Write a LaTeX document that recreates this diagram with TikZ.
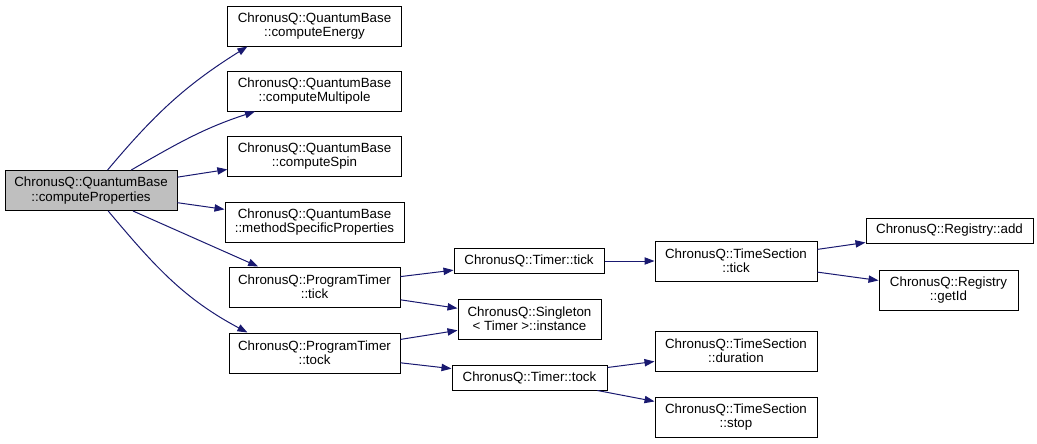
\documentclass[tikz,border=0pt]{standalone}
\usepackage{fontspec}
\setmainfont{Liberation Sans}
\usetikzlibrary{arrows.meta}
\definecolor{callblue}{HTML}{191970}
\begin{document}
\begin{tikzpicture}[x=0.75pt,y=-0.75pt,font=\fontsize{10}{10.7}\selectfont,
			fn/.style={draw=black,line width=0.75pt,fill=white,align=center,inner sep=0pt},
			call/.style={draw=callblue,line width=0.75pt,-{Triangle[length=7.5pt,width=5.5pt]}}
			] 
			\useasboundingbox (0,0) rectangle (1037,443);
			\node[fn,fill=gray!50,minimum width=129pt,minimum height=30pt] (root) at (91,190.5) {ChronusQ::QuantumBase\\::computeProperties};
			\node[fn,minimum width=130pt,minimum height=30pt] (energy) at (314.5,26) {ChronusQ::QuantumBase\\::computeEnergy};
			\node[fn,minimum width=130pt,minimum height=30pt] (multipole) at (314.5,91) {ChronusQ::QuantumBase\\::computeMultipole};
			\node[fn,minimum width=130pt,minimum height=30pt] (spin) at (314.5,156) {ChronusQ::QuantumBase\\::computeSpin};
			\node[fn,minimum width=134.25pt,minimum height=30pt] (method) at (314.5,222) {ChronusQ::QuantumBase\\::methodSpecificProperties};
			\node[fn,minimum width=128.25pt,minimum height=30pt] (pttick) at (314.5,287) {ChronusQ::ProgramTimer\\::tick};
			\node[fn,minimum width=128.25pt,minimum height=30pt] (pttock) at (314.5,353) {ChronusQ::ProgramTimer\\::tock};
			\node[fn,minimum width=112.5pt,minimum height=18.75pt] (ttick) at (529,261) {ChronusQ::Timer::tick};
			\node[fn,minimum width=107.25pt,minimum height=30pt] (single) at (529.5,319) {ChronusQ::Singleton\\< Timer >::instance};
			\node[fn,minimum width=116.25pt,minimum height=18.75pt] (ttock) at (529.5,377.5) {ChronusQ::Timer::tock};
			\node[fn,minimum width=121.5pt,minimum height=30pt] (tstick) at (736,261) {ChronusQ::TimeSection\\::tick};
			\node[fn,minimum width=121.5pt,minimum height=30pt] (tsdur) at (736,351) {ChronusQ::TimeSection\\::duration};
			\node[fn,minimum width=121.5pt,minimum height=30pt] (tsstop) at (736,417) {ChronusQ::TimeSection\\::stop};
			\node[fn,minimum width=125.25pt,minimum height=18.75pt] (regadd) at (949.5,230.5) {ChronusQ::Registry::add};
			\node[fn,minimum width=104.25pt,minimum height=30pt] (regid) at (948.5,290) {ChronusQ::Registry\\::getId};
			% calls from computeProperties
			\draw[call] (root.51) to[out=50,in=212] (energy.197);
			\draw[call] (root.27) to[out=30,in=198] (multipole.199);
			\draw[call] (root) -- (spin);
			\draw[call] (root) -- (method);
			\draw[call] (root.-26) -- (pttick.160);
			\draw[call] (root.-50) to[out=-50,in=152] (pttock.163);
			% timer calls
			\draw[call] (pttick) -- (ttick);
			\draw[call] (pttick) -- (single);
			\draw[call] (pttock) -- (single);
			\draw[call] (pttock) -- (ttock);
			\draw[call] (ttick) -- (tstick);
			\draw[call] (tstick) -- (regadd);
			\draw[call] (tstick) -- (regid);
			\draw[call] (ttock) -- (tsdur);
			\draw[call] (ttock) -- (tsstop);
		\end{tikzpicture}
\end{document}
